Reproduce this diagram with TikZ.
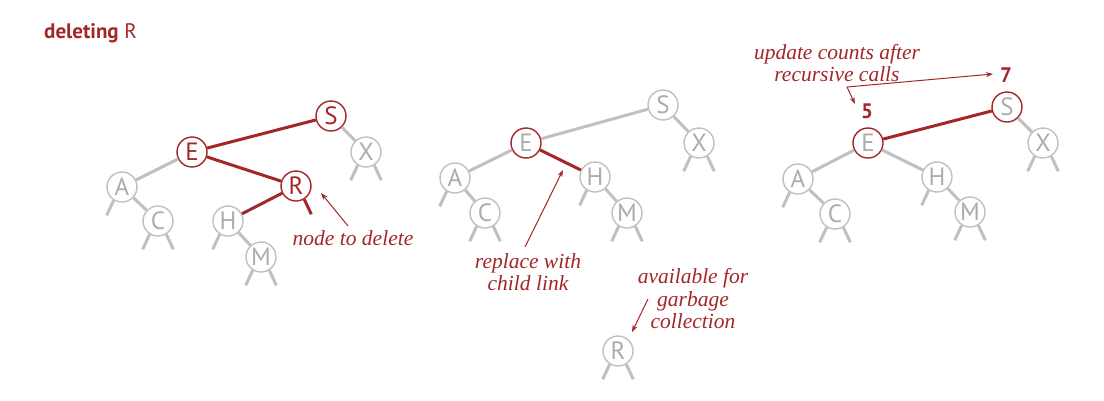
\documentclass[tikz,border=0pt]{standalone}
\usepackage{fontspec}
\setmainfont{Liberation Serif}
\newfontfamily\nodefont{PT Sans}
\usetikzlibrary{arrows.meta}
\definecolor{bred}{RGB}{163,38,40}
\definecolor{lgray}{RGB}{192,192,192}
\definecolor{tgray}{RGB}{172,172,172}
\newcommand{\lstub}[2][stub]{\draw[#1] (#2.-122) -- ++(-7,15);}
\newcommand{\rstub}[2][stub]{\draw[#1] (#2.-58) -- ++(7,15);}
\begin{document}
\begin{tikzpicture}[x=1pt,y=-1pt,
  nd/.style={circle,draw=lgray,line width=1.4pt,fill=white,minimum size=30pt,inner sep=0pt,text=tgray,font=\nodefont\fontsize{25}{25}\selectfont},
  rnd/.style={nd,draw=bred,text=bred},
  rgn/.style={nd,draw=bred},
  edge/.style={draw=lgray,line width=3pt},
  redge/.style={draw=bred,line width=3pt},
  stub/.style={draw=lgray,line width=3pt},
  rstubs/.style={draw=bred,line width=3pt},
  lbl/.style={text=bred,font=\itshape\fontsize{21.5}{22.5}\selectfont,align=center,inner sep=0pt},
  num/.style={text=bred,font=\nodefont\bfseries\fontsize{21}{21}\selectfont,inner sep=1pt},
  arr/.style={draw=bred,line width=1pt,-{Stealth[length=7pt,width=5pt]}},
]
\useasboundingbox (0,0) rectangle (1104,400);
% title
\node[anchor=west,text=bred,font=\nodefont\fontsize{21}{21}\selectfont,inner sep=0pt] (title) at (44,33) {\textbf{deleting} R};
% ---------- tree 1
\node[rnd] (S1) at (331,116) {S};
\node[rnd] (E1) at (192,152) {E};
\node[nd]  (X1) at (366,152) {X};
\node[nd]  (A1) at (122,187) {A};
\node[rnd] (R1) at (296,186) {R};
\node[nd]  (C1) at (158,221) {C};
\node[nd]  (H1) at (228,221) {H};
\node[nd]  (M1) at (261,257) {M};
\draw[redge] (S1) -- (E1);
\draw[redge] (E1) -- (R1);
\draw[redge] (R1) -- (H1);
\draw[edge] (E1) -- (A1);
\draw[edge] (S1) -- (X1);
\draw[edge] (A1) -- (C1);
\draw[edge] (H1) -- (M1);
\lstub{A1} \lstub{C1} \rstub{C1} \lstub{H1} \lstub{M1} \rstub{M1} \lstub{X1} \rstub{X1}
\rstub[rstubs]{R1}
\node[lbl] (l1) at (353,238) {node to delete};
\coordinate (a1s) at (348,226);
\coordinate (a1e) at (321,193);
\draw[arr] (a1s) -- (a1e);
% ---------- tree 2
\node[nd]  (S2) at (663,105) {S};
\node[rgn] (E2) at (526,143) {E};
\node[nd]  (X2) at (699,143) {X};
\node[nd]  (A2) at (455,178) {A};
\node[nd]  (H2) at (595,177) {H};
\node[nd]  (C2) at (485,213) {C};
\node[nd]  (M2) at (627,213) {M};
\node[nd]  (R2) at (618,351) {R};
\draw[edge] (S2) -- (E2);
\draw[redge] (E2) -- (H2);
\draw[edge] (E2) -- (A2);
\draw[edge] (S2) -- (X2);
\draw[edge] (A2) -- (C2);
\draw[edge] (H2) -- (M2);
\lstub{A2} \lstub{C2} \rstub{C2} \lstub{H2} \lstub{M2} \rstub{M2} \lstub{X2} \rstub{X2} \lstub{R2} \rstub{R2}
\node[lbl] (l2) at (528,272) {replace with\\child link};
\coordinate (a2s) at (525,247);
\coordinate (a2e) at (563,170);
\draw[arr] (a2s) -- (a2e);
\node[lbl] (l3) at (693,299) {available for\\garbage\\collection};
\coordinate (a3s) at (648,299);
\coordinate (a3e) at (632,332);
\draw[arr] (a3s) -- (a3e);
% ---------- tree 3
\node[rgn] (S3) at (1007,107) {S};
\node[rgn] (E3) at (868,143) {E};
\node[nd]  (X3) at (1043,143) {X};
\node[nd]  (A3) at (798,179) {A};
\node[nd]  (H3) at (937,177) {H};
\node[nd]  (C3) at (835,214) {C};
\node[nd]  (M3) at (970,212) {M};
\draw[redge] (S3) -- (E3);
\draw[edge] (E3) -- (A3);
\draw[edge] (E3) -- (H3);
\draw[edge] (S3) -- (X3);
\draw[edge] (A3) -- (C3);
\draw[edge] (H3) -- (M3);
\lstub{A3} \lstub{C3} \rstub{C3} \lstub{H3} \lstub{M3} \rstub{M3} \lstub{X3} \rstub{X3}
\node[num] (n5) at (867,111) {5};
\node[num] (n7) at (1006,75) {7};
\node[lbl] (l4) at (837,63) {update counts after\\recursive calls};
\coordinate (a4s) at (847,87);
\coordinate (a4e) at (993,74);
\coordinate (a5e) at (855,104);
\draw[arr] (a4s) -- (a4e);
\draw[arr] (a4s) -- (a5e);
\end{tikzpicture}
\end{document}
